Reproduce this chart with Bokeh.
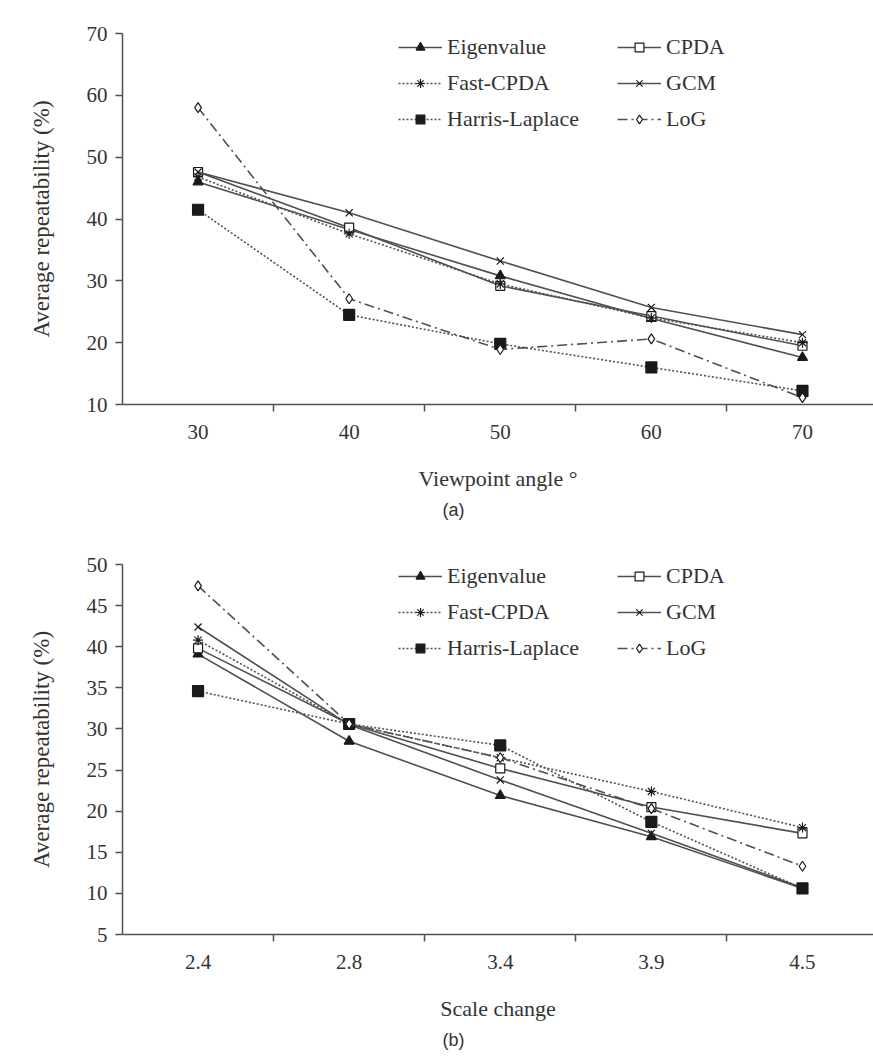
from bokeh.plotting import figure
from bokeh.models import Range1d, FixedTicker, Legend, LegendItem, Title
from bokeh.layouts import column
from bokeh.embed import file_html
from bokeh.resources import INLINE

# ---- data ----
angle_labels = ["30", "40", "50", "60", "70"]
scale_labels = ["2.4", "2.8", "3.4", "3.9", "4.5"]
series_names = ["Eigenvalue", "CPDA", "Fast-CPDA", "GCM", "Harris-Laplace", "LoG"]

angle_eigenvalue = [46.0, 38.3, 30.8, 23.9, 17.6]
angle_cpda = [47.6, 38.6, 29.2, 24.3, 19.5]
angle_fast_cpda = [46.8, 37.6, 29.5, 24.0, 20.0]
angle_gcm = [47.6, 41.0, 33.2, 25.7, 21.3]
angle_harris = [41.5, 24.5, 19.8, 16.0, 12.2]
angle_log = [58.0, 27.1, 18.9, 20.6, 11.1]

scale_eigenvalue = [39.1, 28.5, 21.9, 16.9, 10.6]
scale_cpda = [39.8, 30.6, 25.2, 20.5, 17.3]
scale_fast_cpda = [40.8, 30.6, 26.5, 22.4, 18.0]
scale_gcm = [42.4, 30.5, 23.8, 17.3, 10.7]
scale_harris = [34.6, 30.6, 28.0, 18.7, 10.6]
scale_log = [47.4, 30.6, 26.5, 20.3, 13.3]

angle_ticks = [10, 20, 30, 40, 50, 60, 70]
scale_ticks = [5, 10, 15, 20, 25, 30, 35, 40, 45, 50]

# ---- styles ----
LINE = "#505050"
MARK = "#1a1a1a"
TEXT = "#333333"
SERIF = "Liberation Serif"
styles = [
    dict(dash="solid", marker="triangle", fill=MARK, size=10),
    dict(dash="solid", marker="square", fill="white", size=9),
    dict(dash="2 2", marker="asterisk", fill=None, size=10),
    dict(dash="solid", marker="x", fill=None, size=10),
    dict(dash="2 2", marker="square", fill=MARK, size=11),
    dict(dash="10 4 2 4", marker="diamond", fill="white", size=10),
]


def make_fig(cat_labels, series, y_ticks, xlabel, caption, height, border_top, border_bottom, leg_y):
    n = len(cat_labels)
    xs = [i + 0.5 for i in range(n)]
    p = figure(width=873, height=height, output_backend="svg", toolbar_location=None,
               x_range=Range1d(0, 4.97), y_range=Range1d(y_ticks[0], y_ticks[-1]),
               min_border_left=122, min_border_right=0,
               min_border_top=border_top, min_border_bottom=border_bottom)
    p.outline_line_color = None
    p.xgrid.visible = False
    p.ygrid.visible = False

    xa = p.xaxis[0]
    xa.ticker = FixedTicker(ticks=xs, minor_ticks=list(range(1, n)))
    xa.major_label_overrides = {x: lab for x, lab in zip(xs, cat_labels)}
    xa.major_tick_out = 0
    xa.major_tick_in = 0
    xa.major_tick_line_color = None
    xa.minor_tick_out = 7
    xa.minor_tick_in = 0
    xa.minor_tick_line_color = LINE
    xa.minor_tick_line_width = 1.5
    xa.axis_line_color = LINE
    xa.axis_line_width = 1.5
    xa.major_label_text_font = SERIF
    xa.major_label_text_font_size = "21px"
    xa.major_label_text_color = TEXT
    xa.major_label_standoff = 13
    xa.axis_label = xlabel
    xa.axis_label_text_font = SERIF
    xa.axis_label_text_font_size = "22px"
    xa.axis_label_text_font_style = "normal"
    xa.axis_label_text_color = TEXT
    xa.axis_label_standoff = 24

    ya = p.yaxis[0]
    ya.ticker = FixedTicker(ticks=y_ticks)
    ya.major_tick_out = 7
    ya.major_tick_in = 0
    ya.major_tick_line_color = LINE
    ya.major_tick_line_width = 1.5
    ya.minor_tick_line_color = None
    ya.axis_line_color = LINE
    ya.axis_line_width = 1.5
    ya.major_label_text_font = SERIF
    ya.major_label_text_font_size = "21px"
    ya.major_label_text_color = TEXT
    ya.major_label_standoff = 8
    ya.axis_label = "Average repeatability (%)"
    ya.axis_label_text_font = SERIF
    ya.axis_label_text_font_size = "23px"
    ya.axis_label_text_font_style = "normal"
    ya.axis_label_text_color = TEXT
    ya.axis_label_standoff = 30

    items = []
    for name, ys, st in zip(series_names, series, styles):
        lr = p.line(xs, ys, line_color=LINE, line_width=1.6, line_dash=st["dash"])
        sr = p.scatter(xs, ys, marker=st["marker"], size=st["size"],
                       line_color=MARK, line_width=1.2,
                       fill_color=st["fill"] if st["fill"] else None)
        items.append(LegendItem(label=name, renderers=[lr, sr]))

    # two legend columns: left = items 0,2,4 ; right = items 1,3,5
    for col, xloc in ((0, 276), (1, 495)):
        lg = Legend(items=items[col::2], location=(xloc, leg_y), orientation="vertical",
                    padding=0, margin=0, spacing=10, glyph_width=44, glyph_height=22,
                    label_height=22, label_standoff=5,
                    label_text_font=SERIF, label_text_font_size="22px",
                    label_text_color=TEXT, border_line_color=None,
                    background_fill_alpha=0)
        p.add_layout(lg)

    p.add_layout(Title(text=caption, align="left", offset=320, standoff=8,
                       text_font="Liberation Sans", text_font_size="18px",
                       text_font_style="normal", text_color=TEXT), "below")
    return p


p1 = make_fig(angle_labels,
              [angle_eigenvalue, angle_cpda, angle_fast_cpda, angle_gcm, angle_harris, angle_log],
              angle_ticks, "Viewpoint angle °", "(a)", 537, 33, 133, 272)
p2 = make_fig(scale_labels,
              [scale_eigenvalue, scale_cpda, scale_fast_cpda, scale_gcm, scale_harris, scale_log],
              scale_ticks, "Scale change", "(b)", 521, 27, 124, 273)

layout = column(p1, p2, spacing=0)
open("out.html", "w").write(file_html(layout, INLINE))
